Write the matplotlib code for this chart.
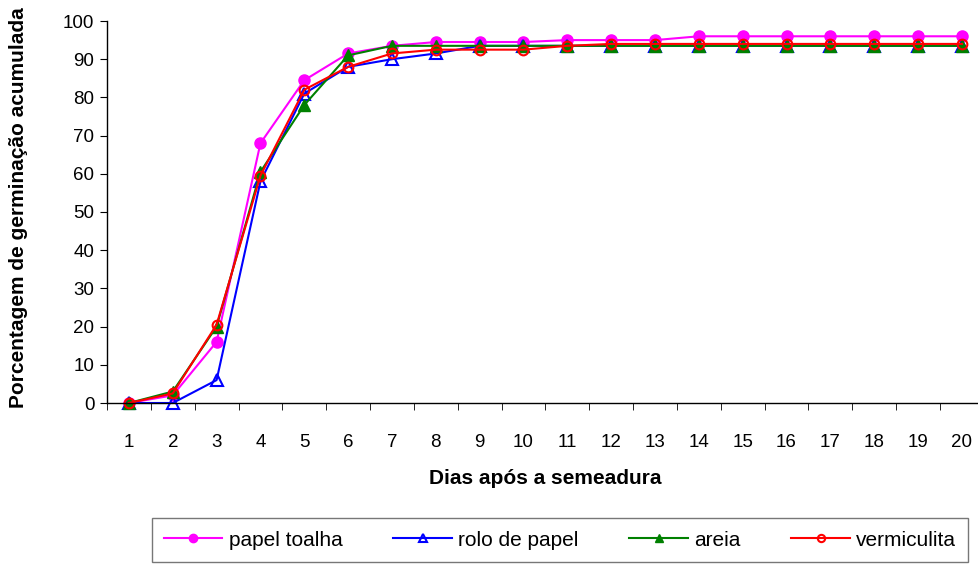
import matplotlib
matplotlib.use("Agg")
import matplotlib.pyplot as plt

plt.rcParams['font.family'] = ['Liberation Sans', 'DejaVu Sans']

dias = list(range(1, 21))
papel_toalha = [0, 2, 16, 68, 84.5, 91.5, 93.5, 94.5, 94.5, 94.5,
                95, 95, 95, 96, 96, 96, 96, 96, 96, 96]
rolo_de_papel = [0, 0, 6, 58, 81, 88, 90, 91.5, 93.5, 93.5,
                 93.5, 93.5, 93.5, 93.5, 93.5, 93.5, 93.5, 93.5, 93.5, 93.5]
areia = [0, 3, 20, 60.5, 78, 91, 93.5, 93.5, 93.5, 93.5,
         93.5, 93.5, 93.5, 93.5, 93.5, 93.5, 93.5, 93.5, 93.5, 93.5]
vermiculita = [0, 2.5, 20.5, 59.5, 82, 88, 91.5, 92.5, 92.5, 92.5,
               93.5, 94, 94, 94, 94, 94, 94, 94, 94, 94]

W, H = 979, 565
fig = plt.figure(figsize=(W / 100, H / 100), dpi=100)
ax = fig.add_axes([107 / W, 1 - 403 / H, (W - 107) / W, (403 - 21) / H])

ax.plot(dias, papel_toalha, color='#FF00FF', lw=1.5, marker='o', ms=8,
        mfc='#FF00FF', mec='#FF00FF', label='papel toalha', clip_on=False)
ax.plot(dias, rolo_de_papel, color='#0000FF', lw=1.5, marker='^', ms=8,
        mfc='none', mec='#0000FF', mew=1.5, label='rolo de papel', clip_on=False)
ax.plot(dias, areia, color='#008000', lw=1.5, marker='^', ms=8,
        mfc='#008000', mec='#008000', label='areia', clip_on=False)
ax.plot(dias, vermiculita, color='#FF0000', lw=1.5, marker='o', ms=7,
        mfc='none', mec='#FF0000', mew=1.5, label='vermiculita', clip_on=False)

ax.set_xlim(0.568, 20.39)
ax.set_ylim(0, 100)
ax.set_yticks(range(0, 101, 10))
ax.set_xticks(dias)
ax.set_xticks([d + 0.5 for d in range(0, 20)], minor=True)
ax.tick_params(axis='x', which='major', length=0, labelsize=13.5, pad=22)
ax.tick_params(axis='x', which='minor', length=5, direction='out')
ax.tick_params(axis='y', length=5, direction='out', labelsize=13.5, pad=4)

for s in ['top', 'right']:
    ax.spines[s].set_visible(False)
for s in ['left', 'bottom']:
    ax.spines[s].set_linewidth(1.0)

fig.text(545 / W, 1 - 478 / H, 'Dias após a semeadura', fontsize=15,
         fontweight='bold', ha='center', va='center')
fig.text(19 / W, 1 - 208 / H, 'Porcentagem de germinação acumulada',
         fontsize=15, fontweight='bold', rotation=90, ha='center', va='center')

leg = fig.legend(loc='center', bbox_to_anchor=(560 / W, 1 - 540 / H), ncol=4,
                 fontsize=15, frameon=True, fancybox=False, edgecolor='#555555',
                 handlelength=2.8, handletextpad=0.3, columnspacing=2.45,
                 borderpad=0.6, markerscale=0.75)
leg.get_frame().set_linewidth(1.0)

fig.savefig('out.png', dpi=100)
